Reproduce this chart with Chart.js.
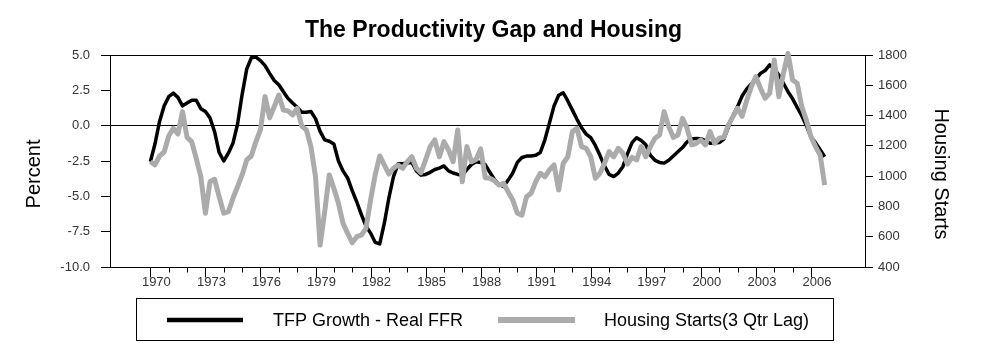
<!DOCTYPE html>
<html lang="en">
<head>
<meta charset="UTF-8">
<title>The Productivity Gap and Housing</title>
<script src="https://cdn.jsdelivr.net/npm/chart.js@4.4.1/dist/chart.umd.min.js"></script>
<style>
  html, body { margin: 0; padding: 0; background: #fff; }
  #wrap { width: 987px; height: 354px; }
</style>
</head>
<body>
<div id="wrap"><canvas id="chart" width="987" height="354"></canvas></div>
<script>
// quarterly series, first value = 1970 Q1
const startYear = 1970;

// TFP growth minus real fed funds rate, percent (left axis)
const tfpGap = [
  -2.55, -1.3, 0.3, 1.4,      // 1970
  2.05, 2.3, 2.0, 1.4,        // 1971
  1.6, 1.8, 1.8, 1.2,         // 1972
  1.0, 0.55, -0.43, -1.9,     // 1973
  -2.5, -1.95, -1.25, 0.1,    // 1974
  2.2, 4.0, 4.8, 4.85,        // 1975
  4.6, 4.25, 3.7, 3.2,        // 1976
  2.9, 2.4, 1.93, 1.6,        // 1977
  1.3, 0.95, 0.95, 1.0,       // 1978
  0.5, -0.4, -1.0, -1.1,      // 1979
  -1.3, -2.5, -3.2, -3.7,     // 1980
  -4.6, -5.4, -6.3, -7.1,     // 1981
  -7.6, -8.25, -8.37, -6.9,   // 1982
  -5.1, -3.6, -2.7, -2.7,     // 1983
  -2.65, -2.6, -3.2, -3.5,    // 1984
  -3.45, -3.3, -3.1, -3.0,    // 1985
  -2.85, -3.2, -3.35, -3.45,  // 1986
  -3.5, -3.1, -2.75, -2.55,   // 1987
  -2.6, -2.75, -3.3, -3.8,    // 1988
  -4.15, -4.3, -3.85, -3.35,  // 1989
  -2.6, -2.25, -2.15, -2.15,  // 1990
  -2.1, -1.9, -1.0, 0.2,      // 1991
  1.4, 2.15, 2.33, 1.75,      // 1992
  1.1, 0.45, -0.15, -0.6,     // 1993
  -0.85, -1.4, -2.1, -2.85,   // 1994
  -3.45, -3.6, -3.35, -2.9,   // 1995
  -2.0, -1.2, -0.85, -1.05,   // 1996
  -1.35, -2.1, -2.45, -2.6,   // 1997
  -2.65, -2.45, -2.15, -1.85, // 1998
  -1.55, -1.15, -0.95, -0.9,  // 1999
  -0.92, -1.05, -1.25, -1.22, // 2000
  -1.2, -0.95, -0.1, 0.7,     // 2001
  1.35, 2.1, 2.6, 2.95,       // 2002
  3.3, 3.7, 3.9, 4.3,         // 2003
  4.0, 3.6, 3.0, 2.4,         // 2004
  1.9, 1.3, 0.7, 0.0,         // 2005
  -0.8, -1.2, -1.7, -2.2      // 2006
];

// housing starts, thousands, lagged 3 quarters (right axis)
const housingStarts = [
  1095, 1074, 1133, 1159,  // 1970
  1265, 1316, 1278, 1426,  // 1971
  1256, 1228, 1118, 996,   // 1972
  755, 963, 979, 864,      // 1973
  755, 765, 854, 930,      // 1974
  1008, 1107, 1133, 1228,  // 1975
  1305, 1525, 1385, 1459,  // 1976
  1536, 1437, 1431, 1404,  // 1977
  1448, 1331, 1305, 1195,  // 1978
  996, 545, 765, 1008,     // 1979
  920, 821, 688, 622,      // 1980
  560, 600, 611, 655,      // 1981
  842, 1008, 1133, 1074,   // 1982
  1014, 1052, 1074, 1052,  // 1983
  1095, 1128, 1052, 1023,  // 1984
  1107, 1195, 1239, 1128,  // 1985
  1228, 1173, 1095, 1305,  // 1986
  963, 1195, 1095, 1110,   // 1987
  1180, 990, 986, 970,     // 1988
  941, 953, 895, 842,      // 1989
  755, 743, 864, 887,      // 1990
  963, 1019, 996, 1041,    // 1991
  1074, 908, 1085, 1128,   // 1992
  1294, 1316, 1195, 1184,  // 1993
  1128, 986, 1019, 1085,   // 1994
  1162, 1128, 1184, 1151,  // 1995
  1080, 1124, 1107, 1195,  // 1996
  1128, 1195, 1250, 1272,  // 1997
  1426, 1327, 1256, 1272,  // 1998
  1382, 1316, 1206, 1217,  // 1999
  1239, 1206, 1294, 1217,  // 2000
  1250, 1256, 1338, 1393,  // 2001
  1448, 1395, 1500, 1590,  // 2002
  1657, 1580, 1514, 1547,  // 2003
  1767, 1525, 1679, 1811,  // 2004
  1635, 1613, 1459, 1370,  // 2005
  1261, 1195, 1140, 941    // 2006
];

const yearLabels = [1970, 1973, 1976, 1979, 1982, 1985, 1988, 1991, 1994, 1997, 2000, 2003, 2006];
const firstTickYear = 1970;
const lastTickYear = 2006;

const FONT = "'Liberation Sans', Arial, sans-serif";

const toPoints = arr => arr.map((v, i) => ({ x: startYear + i / 4, y: v }));

// frame, year tick marks, axis titles and the boxed legend
const decorPlugin = {
  id: 'decor',
  beforeDatasetsDraw(chart) {
    const { ctx, chartArea: a } = chart;
    ctx.save();
    ctx.strokeStyle = '#000';
    ctx.lineWidth = 1;
    ctx.strokeRect(Math.round(a.left) + 0.5, Math.round(a.top) + 0.5,
      Math.round(a.right - a.left) - 1, Math.round(a.bottom - a.top));
    ctx.restore();
  },
  afterDraw(chart) {
    const { ctx, chartArea: a, scales } = chart;
    ctx.save();
    ctx.strokeStyle = '#000';
    ctx.lineWidth = 1;
    const yb = Math.round(a.bottom) + 0.5;
    for (let yr = firstTickYear; yr <= lastTickYear; yr++) {
      const px = Math.round(scales.x.getPixelForValue(yr)) + 0.5;
      const len = (yr - firstTickYear) % 3 === 0 ? 10 : 5;
      ctx.beginPath();
      ctx.moveTo(px, yb);
      ctx.lineTo(px, yb + len);
      ctx.stroke();
    }

    ctx.fillStyle = '#000';
    ctx.font = '20px ' + FONT;
    ctx.textAlign = 'center';
    ctx.textBaseline = 'middle';
    ctx.save();
    ctx.translate(34, 174);
    ctx.rotate(-Math.PI / 2);
    ctx.fillText('Percent', 0, 0);
    ctx.restore();
    ctx.save();
    ctx.translate(941, 174);
    ctx.rotate(Math.PI / 2);
    ctx.fillText('Housing Starts', 0, 0);
    ctx.restore();

    // legend
    ctx.strokeRect(136.5, 298.5, 697, 42);
    const ly = 320;
    const entries = [
      { x0: 167, x1: 243, tx: 273 },
      { x0: 498, x1: 575, tx: 604 }
    ];
    chart.data.datasets.forEach((ds, i) => {
      const e = entries[i];
      ctx.beginPath();
      ctx.strokeStyle = ds.borderColor;
      ctx.lineWidth = ds.borderWidth + 1;
      ctx.moveTo(e.x0, ly);
      ctx.lineTo(e.x1, ly);
      ctx.stroke();
      ctx.fillStyle = '#000';
      ctx.font = '18px ' + FONT;
      ctx.textAlign = 'left';
      ctx.fillText(ds.label, e.tx, ly + 1);
    });
    ctx.restore();
  }
};

new Chart(document.getElementById('chart'), {
  type: 'line',
  data: {
    datasets: [
      {
        label: 'TFP Growth - Real FFR',
        data: toPoints(tfpGap),
        yAxisID: 'y',
        borderColor: '#000000',
        borderWidth: 3.5,
        borderJoinStyle: 'round',
        pointRadius: 0,
        tension: 0,
        order: 1
      },
      {
        label: 'Housing Starts(3 Qtr Lag)',
        data: toPoints(housingStarts),
        yAxisID: 'y1',
        borderColor: '#ababab',
        borderWidth: 5,
        borderJoinStyle: 'round',
        pointRadius: 0,
        tension: 0,
        clip: 6,
        order: 0
      }
    ]
  },
  options: {
    responsive: false,
    animation: false,
    events: [],
    layout: { padding: 0 },
    plugins: {
      legend: { display: false },
      tooltip: { enabled: false },
      title: {
        display: true,
        text: 'The Productivity Gap and Housing',
        color: '#000',
        font: { family: FONT, size: 23, weight: 'bold' },
        padding: { top: 17, bottom: 10.4 }
      }
    },
    scales: {
      x: {
        type: 'linear',
        min: 1967.8,
        max: 2009.0,
        afterBuildTicks: s => { s.ticks = yearLabels.map(v => ({ value: v })); },
        afterFit: s => { s.height = 87; },
        grid: { display: true, drawOnChartArea: false, drawTicks: false },
        border: { display: false },
        ticks: {
          autoSkip: false,
          maxRotation: 0,
          padding: 8,
          labelOffset: 6,
          color: '#333',
          font: { family: FONT, size: 13 },
          callback: v => String(v)
        }
      },
      y: {
        position: 'left',
        min: -10,
        max: 5,
        afterFit: s => { s.width = 110; },
        border: { display: false },
        grid: {
          drawOnChartArea: true,
          color: c => (c.tick && c.tick.value === 0 ? '#000' : 'rgba(0,0,0,0)'),
          tickColor: '#000',
          tickLength: 9,
          lineWidth: 1
        },
        ticks: {
          stepSize: 2.5,
          padding: 11,
          color: '#333',
          font: { family: FONT, size: 13 },
          callback: v => v.toFixed(1)
        }
      },
      y1: {
        position: 'right',
        min: 400,
        max: 1800,
        afterFit: s => { s.width = 121; },
        border: { display: false },
        grid: { drawOnChartArea: false, tickColor: '#000', tickLength: 7 },
        ticks: {
          stepSize: 200,
          padding: 5,
          color: '#333',
          font: { family: FONT, size: 13 },
          callback: v => String(v)
        }
      }
    }
  },
  plugins: [decorPlugin]
});
</script>
</body>
</html>
